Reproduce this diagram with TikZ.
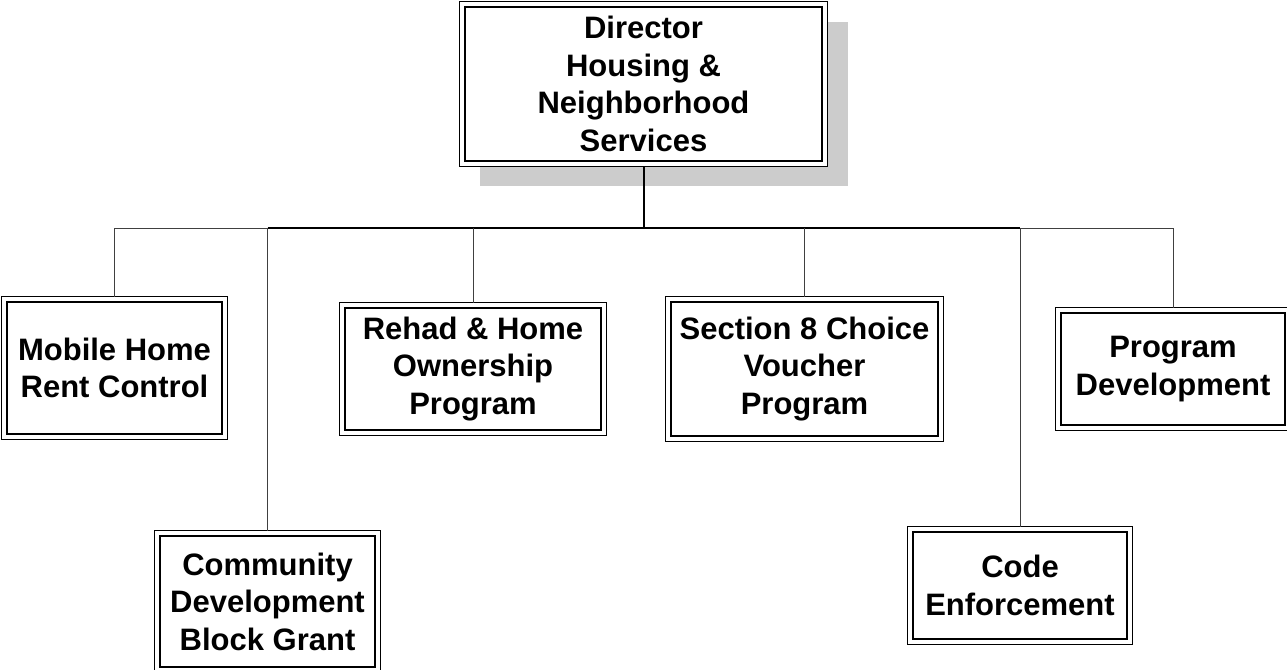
\documentclass[tikz,border=0pt]{standalone}
\usepackage{fontspec}
\setmainfont{Liberation Sans}
\begin{document}
\begin{tikzpicture}[x=1pt,y=-1pt,
  unit/.style={rectangle, draw=none, fill=white, inner sep=0pt, align=center,
    font=\bfseries\fontsize{31}{37.5}\selectfont},
  outerframe/.style={draw=black, line width=1.2pt},
  innerframe/.style={draw=black, line width=2pt},
  shadowbox/.style={fill=black!20, draw=none},
  thinlink/.style={draw=black!75, line width=1pt},
  thicklink/.style={draw=black, line width=2pt}]
\useasboundingbox (0,0) rectangle (1287,669);

% director with drop shadow
\fill[shadowbox] (480,22) rectangle (848,186);
\node[unit, minimum width=367, minimum height=164] (dir) at (643.5,84) {Director\\Housing \&\\Neighborhood\\Services};

% divisions
\node[unit, minimum width=225, minimum height=142] (mh)  at (114.5,368) {Mobile Home\\Rent Control};
\node[unit, minimum width=225, minimum height=141] (cd)  at (267.5,601.5) {Community\\Development\\Block Grant};
\node[unit, minimum width=266, minimum height=132] (rh)  at (473,369) {Rehad \& Home\\Ownership\\Program};
\node[unit, minimum width=277, minimum height=144] (s8)  at (804.5,369) {Section 8 Choice\\Voucher\\Program};
\node[unit, minimum width=224, minimum height=117] (ce)  at (1020,585.5) {Code\\Enforcement};
\node[unit, minimum width=234, minimum height=122] (pd)  at (1173,369) {Program\\Development};

% double frames: thin outer line, heavier inner line
\foreach \n in {dir,mh,cd,rh,s8,ce,pd}{
  \draw[outerframe] (\n.north west) rectangle (\n.south east);
  \draw[innerframe] ([shift={(5,5)}]\n.north west) rectangle ([shift={(-5,-5)}]\n.south east);
}

% connectors
\coordinate (bus) at (dir.south |- 0,228);
\draw[thicklink] (dir.south) -- (bus);
\draw[thicklink] (cd.north |- bus) -- (ce.north |- bus);
\draw[thinlink] (mh.north |- bus) -- (cd.north |- bus);
\draw[thinlink] (ce.north |- bus) -- (pd.north |- bus);
\foreach \n in {mh,cd,rh,s8,ce,pd}{
  \draw[thinlink] (\n.north |- bus) -- (\n.north);
}
\end{tikzpicture}
\end{document}
